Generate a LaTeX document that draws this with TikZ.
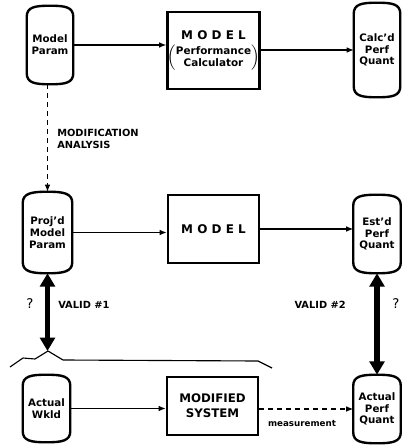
\documentclass[tikz,border=0pt]{standalone}
\usepackage{fontspec}
\setmainfont{DejaVu Sans}
\usetikzlibrary{arrows.meta}

\tikzset{
    drum/.style={inner sep=0pt, align=center, font=\fontsize{7.3}{8.4}\selectfont\bfseries},
    drumline/.style={line width=1.7pt, line join=round},
    box/.style={draw, line width=1.9pt, minimum width=2.275cm, inner sep=0pt, align=center},
    flow/.style={-{Latex[length=5pt,width=4pt]}, line width=0.75pt},
    valid/.style={{Triangle[length=9.5pt,width=10.5pt]}-{Triangle[length=9.5pt,width=10.5pt]}, line width=3.8pt},
    lbl/.style={inner sep=0pt, font=\fontsize{7}{8.8}\selectfont\bfseries}
}
\newcommand{\spacedmodel}{M\kern3pt O\kern3pt D\kern3pt E\kern3pt L}

\begin{document}
\begin{tikzpicture}[x=0.025cm, y=-0.025cm]
    \useasboundingbox (0,0) rectangle (401,446);
        % Parameter and quantity drums
        \node[drum, minimum width=1.15cm, minimum height=1.95cm] (mp) at (50,45) {Model\\Param};
        \node[drum, minimum width=1.15cm, minimum height=2.35cm] (calc) at (377,50) {Calc'd\\Perf\\Quant};
        \node[drum, minimum width=1.225cm, minimum height=2.025cm] (pmp) at (47.5,232.5) {Proj'd\\Model\\Param};
        \node[drum, minimum width=1.175cm, minimum height=1.95cm] (est) at (377,234) {Est'd\\Perf\\Quant};
        \node[drum, minimum width=1.175cm, minimum height=1.675cm] (aw) at (46.5,408.5) {Actual\\Wkld};
        \node[drum, minimum width=1.175cm, minimum height=1.7cm] (apq) at (377,409) {Actual\\Perf\\Quant};
        % Drum outlines
        \foreach \n in {mp,calc,pmp,est,aw,apq} {
            \draw[drumline] ([yshift=-8pt]\n.north west) .. controls ([yshift=-1pt]\n.north west) and ([xshift=-11pt]\n.north) .. (\n.north)
                .. controls ([xshift=11pt]\n.north) and ([yshift=-1pt]\n.north east) .. ([yshift=-8pt]\n.north east)
                -- ([yshift=8pt]\n.south east) .. controls ([yshift=1pt]\n.south east) and ([xshift=11pt]\n.south) .. (\n.south)
                .. controls ([xshift=-11pt]\n.south) and ([yshift=1pt]\n.south west) .. ([yshift=8pt]\n.south west) -- cycle;
        }
        % Model and system boxes
        \node[box, minimum height=1.925cm] (model1) at (213.5,50.5) {{\fontsize{8.5}{9}\selectfont\bfseries\spacedmodel}\\[3pt]
            $\left(\mbox{\fontsize{7.4}{8.6}\selectfont\bfseries\begin{tabular}{@{}c@{}}Performance\\Calculator\end{tabular}}\right)$};
        \node[box, minimum height=1.7cm, font=\fontsize{8.5}{9}\selectfont\bfseries] (model2) at (213.5,229) {\spacedmodel};
        \node[box, minimum height=1.45cm, font=\fontsize{8.4}{10.8}\selectfont\bfseries] (ms) at (212.5,406) {MODIFIED\\SYSTEM};
        % Flow arrows
        \draw[flow] (mp.east) -- (mp.east -| model1.west);
        \draw[flow] (calc.west -| model1.east) -- (calc.west);
        \draw[flow] (pmp.east) -- (pmp.east -| model2.west);
        \draw[flow] (model2.east) -- (model2.east -| est.west);
        \draw[flow] (aw.east) -- (aw.east -| ms.west);
        \draw[flow, dash pattern=on 3.6pt off 2.8pt] (apq.west -| ms.east) -- (apq.west);
        \draw[flow, dash pattern=on 3.6pt off 2.8pt] (pmp.north |- mp.south) -- (pmp.north);
        % Brace over the actual system
        \coordinate (peak) at (48,351);
        \draw[line width=0.8pt, line join=round] (10,367) -- (23,358) -- (35,359) -- (peak) -- (63,360) -- (258,361) -- (272,368);
        % Validation arrows
        \draw[valid] (pmp.south) -- (pmp.south |- peak);
        \draw[valid] (est.south) -- (est.south |- apq.north);
        % Labels
        \node[lbl, anchor=west, align=left] (modan) at (57,139) {MODIFICATION\\ANALYSIS};
        \node[lbl, anchor=west] (v1) at (58,305) {VALID \#1};
        \node[lbl, anchor=east] (v2) at (346,305) {VALID \#2};
        \node[inner sep=0pt, font=\fontsize{9.5}{10}\selectfont] (q1) at (30,304) {?};
        \node[inner sep=0pt, font=\fontsize{9.5}{10}\selectfont] (q2) at (396,304) {?};
        \node[inner sep=0pt, font=\fontsize{6.2}{7}\selectfont\bfseries] (meas) at (302,423) {measurement};
\end{tikzpicture}
\end{document}
